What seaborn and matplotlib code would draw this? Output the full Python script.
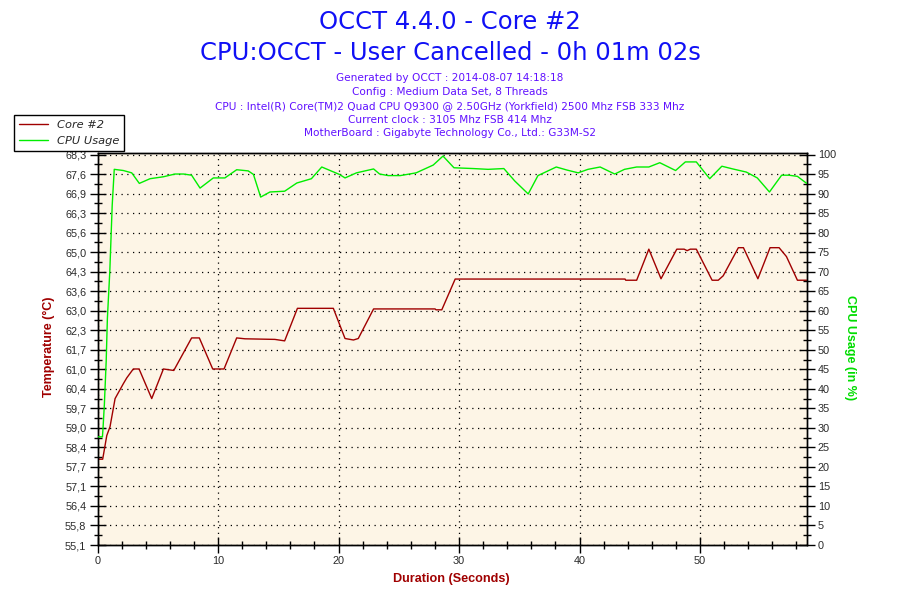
import numpy as np
import pandas as pd
import matplotlib
matplotlib.use("Agg")
import matplotlib.pyplot as plt
import seaborn as sns
from matplotlib.ticker import FixedLocator, MultipleLocator

# ---------------- data ----------------
title_lines = ["OCCT 4.4.0 - Core #2",
               "CPU:OCCT - User Cancelled - 0h 01m 02s"]
info_lines = ["Generated by OCCT : 2014-08-07 14:18:18",
              "Config : Medium Data Set, 8 Threads",
              "CPU : Intel(R) Core(TM)2 Quad CPU Q9300 @ 2.50GHz (Yorkfield) 2500 Mhz FSB 333 Mhz",
              "Current clock : 3105 Mhz FSB 414 Mhz",
              "MotherBoard : Gigabyte Technology Co., Ltd.: G33M-S2"]

temp_time = [0.0, 0.43, 0.77, 1.04, 1.46, 2.14, 2.43, 2.97, 3.45, 4.50,
             5.47, 6.33, 7.81, 8.45, 9.56, 10.50, 11.55, 12.24, 14.72, 15.53,
             16.59, 17.04, 19.57, 20.54, 21.24, 21.64, 22.91, 28.01, 28.09, 28.57,
             29.68, 43.78, 43.83, 44.74, 45.75, 46.76, 48.07, 48.68, 48.93, 49.19,
             49.69, 51.00, 51.51, 51.92, 53.18, 53.60, 54.80, 55.81, 56.56, 57.17,
             58.08, 58.85]
temp_c = [58.0, 58.0, 58.8, 59.1, 60.05, 60.55, 60.75, 61.05, 61.05, 60.05,
          61.05, 61.0, 62.1, 62.1, 61.05, 61.05, 62.1, 62.07, 62.05, 62.0,
          63.1, 63.1, 63.1, 62.08, 62.03, 62.08, 63.08, 63.08, 63.05, 63.05,
          64.09, 64.09, 64.05, 64.05, 65.1, 64.1, 65.1, 65.1, 65.05, 65.1,
          65.1, 64.05, 64.05, 64.2, 65.15, 65.15, 64.1, 65.15, 65.15, 64.85,
          64.05, 64.05]

cpu_time = [0.0, 0.41, 0.46, 0.57, 0.72, 0.82, 1.02, 1.22, 1.39, 2.14,
            2.84, 3.47, 4.36, 5.47, 6.43, 7.14, 7.81, 8.51, 9.61, 10.57,
            11.55, 12.51, 12.94, 13.54, 14.31, 15.53, 16.54, 17.75, 18.61, 19.30,
            20.07, 20.54, 21.49, 22.91, 23.41, 24.12, 25.13, 26.44, 27.86, 28.67,
            29.58, 31.19, 32.41, 33.72, 34.63, 35.74, 36.55, 38.07, 38.98, 39.89,
            40.70, 41.71, 42.92, 43.73, 44.74, 45.75, 46.66, 47.97, 48.78, 49.69,
            50.80, 51.81, 52.72, 53.84, 54.75, 55.76, 56.77, 57.37, 58.08, 58.85]
cpu_pct = [27.7, 27.7, 30, 36, 47, 58, 70, 87, 96.2, 95.9,
           95.3, 92.6, 93.8, 94.3, 95.0, 95.0, 94.7, 91.4, 94.0, 94.0,
           96.1, 95.8, 94.9, 89.1, 90.4, 90.6, 92.7, 93.8, 96.8, 95.9,
           94.9, 94.0, 95.3, 96.3, 95.0, 94.6, 94.6, 95.3, 97.3, 99.6,
           96.6, 96.4, 96.2, 96.4, 93.2, 89.9, 94.6, 96.8, 96.0, 95.3,
           96.2, 96.8, 95.0, 96.2, 96.8, 96.8, 97.9, 95.9, 98.1, 98.1,
           93.8, 97.0, 96.3, 95.5, 94.0, 90.4, 94.7, 94.7, 94.4, 92.6]

temp_tick_labels = ["55,1", "55,8", "56,4", "57,1", "57,7", "58,4", "59,0",
                    "59,7", "60,4", "61,0", "61,7", "62,3", "63,0", "63,6",
                    "64,3", "65,0", "65,6", "66,3", "66,9", "67,6", "68,3"]
cpu_ticks = list(range(0, 101, 5))
x_ticks = [0, 10, 20, 30, 40, 50]

series_names = ["Core #2", "CPU Usage"]
x_label = "Duration (Seconds)"
temp_label = "Temperature (°C)"
cpu_label = "CPU Usage (in %)"

# ---------------- styling ----------------
sns.set_style("ticks")
plt.rcParams['font.family'] = ['DejaVu Sans']

RED = "#a00000"
GREEN = "#00ee00"
TITLE_BLUE = "#1010f5"
INFO_BLUE = "#6010ff"

W, H = 900, 600
fig = plt.figure(figsize=(9, 6), dpi=100)
fig.patch.set_facecolor("white")
L, Rr, B, T = 97.5 / W, 806.7 / W, 1 - 545 / H, 1 - 153 / H
ax = fig.add_axes([L, B, Rr - L, T - B])
ax.set_facecolor("#fdf5e6")
ax2 = ax.twinx()

df_t = pd.DataFrame({"t": temp_time, "v": temp_c})
df_c = pd.DataFrame({"t": cpu_time, "v": cpu_pct})
sns.lineplot(data=df_t, x="t", y="v", ax=ax, color=RED, linewidth=1.0,
             legend=False, zorder=3)
sns.lineplot(data=df_c, x="t", y="v", ax=ax2, color=GREEN, linewidth=1.0,
             legend=False, zorder=3)

# axes limits & ticks
t_lo, t_hi = 55.1, 68.3
px_span = 545 - 154.5
ax.set_xlim(0, 58.85)
ax.set_ylim(t_lo, t_lo + (t_hi - t_lo) * 392 / px_span)
ax2.set_ylim(0, 100 * 392 / px_span)

ax.xaxis.set_major_locator(FixedLocator(x_ticks))
ax.xaxis.set_minor_locator(MultipleLocator(2))
ytk = np.linspace(t_lo, t_hi, len(temp_tick_labels))
ax.set_yticks(ytk, temp_tick_labels)
ax.yaxis.set_minor_locator(FixedLocator((ytk[:-1] + ytk[1:]) / 2))
ax2.set_yticks(cpu_ticks, [str(v) for v in cpu_ticks])
ax2.yaxis.set_minor_locator(MultipleLocator(2.5))

for a in (ax, ax2):
    a.tick_params(which='major', direction='inout', length=12, width=1,
                  color='black', labelsize=7.8, labelcolor='#2a2a2a', pad=2)
    a.tick_params(which='minor', direction='inout', length=6, width=1,
                  color='black')
    for s in a.spines.values():
        s.set_visible(True)
        s.set_color('black')
        s.set_linewidth(1.0)
ax.tick_params(axis='y', left=True, right=False, which='both')
ax.tick_params(axis='x', bottom=True, top=False, which='both')
ax2.tick_params(axis='y', right=True, left=False, which='both')

for lbl in ax.get_xticklabels() + ax.get_yticklabels() + ax2.get_yticklabels():
    lbl.set_fontfamily('Liberation Sans')

ax.set_xlabel("")
ax.set_ylabel("")
ax2.set_ylabel("")

ax.grid(True, which='major', color='black', linestyle=(0, (1, 3.6)),
        linewidth=0.9)
ax.set_axisbelow(True)

# axis labels
fig.text(451 / W, 1 - 579 / H, x_label, ha='center', va='center',
         fontsize=9.1, fontweight='bold', color=RED, family='Liberation Sans')
fig.text(49 / W, 1 - 347 / H, temp_label, ha='center', va='center',
         rotation=90, fontsize=9.0, fontweight='bold', color=RED,
         family='Liberation Sans')
fig.text(850 / W, 1 - 348 / H, cpu_label, ha='center', va='center',
         rotation=270, fontsize=9.0, fontweight='bold', color="#00dd00",
         family='Liberation Sans')

# titles
for txt, yb in zip(title_lines, [29.3, 60.0]):
    fig.text(0.5, 1 - yb / H, txt, ha='center', va='baseline',
             fontsize=17.5, color=TITLE_BLUE)
for txt, yb in zip(info_lines, [81.0, 95.0, 109.0, 123.0, 136.3]):
    fig.text(0.5, 1 - yb / H, txt, ha='center', va='baseline',
             fontsize=7.6, color=INFO_BLUE)

# legend
handles = [ax.lines[0], ax2.lines[0]]
leg = fig.legend(handles, series_names, loc='upper left',
                 bbox_to_anchor=(14 / W, 1 - 115 / H), borderaxespad=0,
                 frameon=True, fancybox=False, shadow=False, framealpha=1,
                 edgecolor='black', facecolor='white',
                 prop={'style': 'italic', 'size': 8.2},
                 handlelength=2.6, handletextpad=0.8, labelspacing=0.6,
                 borderpad=0.4)
leg.get_frame().set_linewidth(1.0)

fig.savefig("out.png", dpi=100)
